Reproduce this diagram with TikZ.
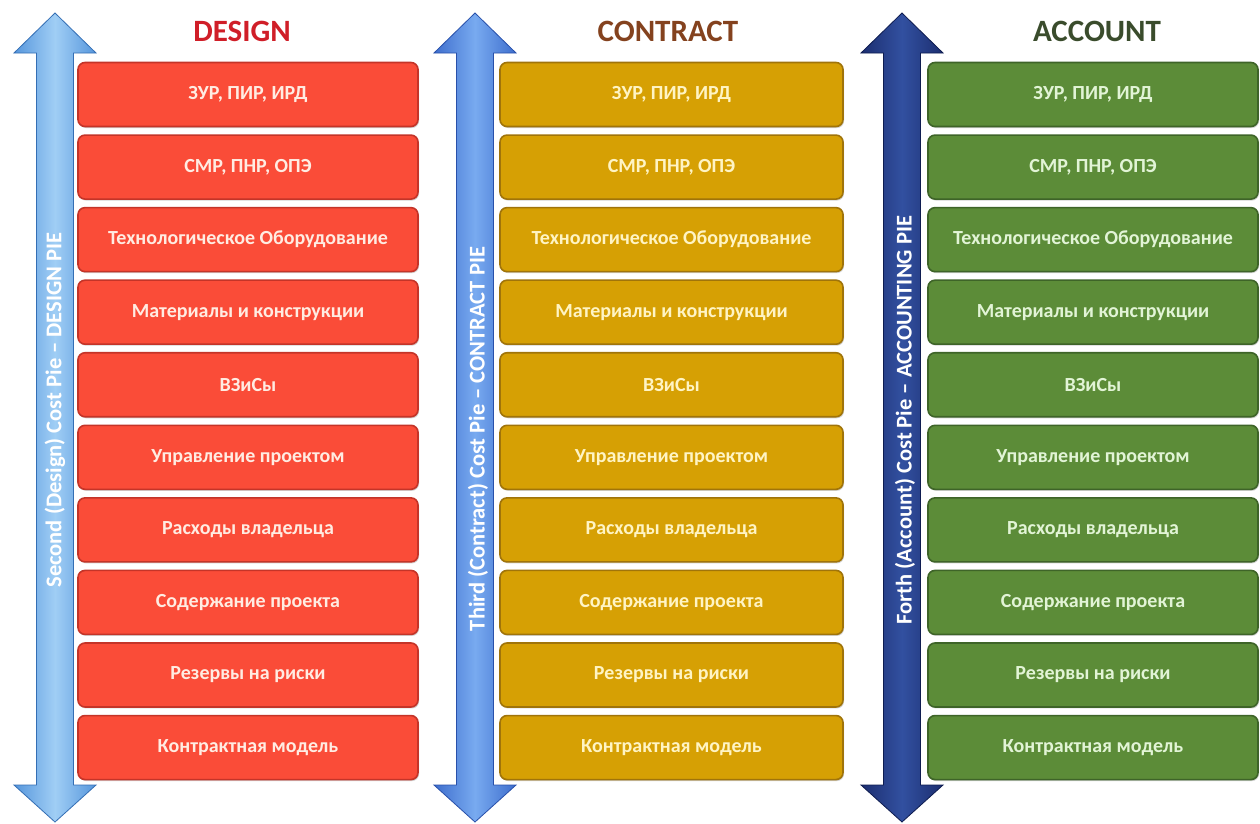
\documentclass[tikz,border=0pt]{standalone}
\usepackage{fontspec}
\setmainfont{Carlito}
\usetikzlibrary{shadows}

% palette
\definecolor{designfill}{RGB}{250,76,56}
\definecolor{designedge}{RGB}{196,52,40}
\definecolor{designtitle}{RGB}{208,30,40}
\definecolor{designtext}{RGB}{255,236,226}
\definecolor{contractfill}{RGB}{214,160,4}
\definecolor{contractedge}{RGB}{160,116,10}
\definecolor{contracttitle}{RGB}{132,66,30}
\definecolor{contracttext}{RGB}{255,244,196}
\definecolor{accountfill}{RGB}{92,140,56}
\definecolor{accountedge}{RGB}{62,100,40}
\definecolor{accounttitle}{RGB}{58,76,44}
\definecolor{accounttext}{RGB}{226,244,214}
\definecolor{arrowAedge}{RGB}{52,110,180}
\definecolor{arrowAlight}{RGB}{160,206,245}
\definecolor{arrowAmid}{RGB}{86,150,220}
\definecolor{arrowBedge}{RGB}{40,80,170}
\definecolor{arrowBlight}{RGB}{120,170,240}
\definecolor{arrowBmid}{RGB}{62,110,205}
\definecolor{arrowCedge}{RGB}{14,28,80}
\definecolor{arrowClight}{RGB}{50,80,160}
\definecolor{arrowCmid}{RGB}{28,46,112}

\tikzset{
  x=1pt, y=-1pt,
  costbox/.style={rounded corners=7pt, line width=1.6pt,
    minimum height=64pt, inner sep=0pt,
    font=\fontsize{20}{22}\selectfont\bfseries,
    drop shadow={shadow xshift=1pt, shadow yshift=-1.5pt, opacity=0.35}},
  designbox/.style={costbox, fill=designfill, draw=designedge,
    text=designtext, minimum width=340pt},
  contractbox/.style={costbox, fill=contractfill, draw=contractedge,
    text=contracttext, minimum width=343pt},
  accountbox/.style={costbox, fill=accountfill, draw=accountedge,
    text=accounttext, minimum width=330pt},
  coltitle/.style={font=\fontsize{31}{34}\selectfont\bfseries},
  pielabel/.style={rotate=90, text=white,
    font=\fontsize{22.5}{24}\selectfont\bfseries}
}

% double-headed vertical arrow centred at x=#1
\newcommand{\piearrow}[4]{%
  \shade[left color=#2, right color=#2, middle color=#3, draw=#4, line width=0.8pt]
    (#1,13) -- (#1+41,53) -- (#1+18.5,53) -- (#1+18.5,785) -- (#1+41,785)
    -- (#1,822) -- (#1-41,785) -- (#1-18.5,785) -- (#1-18.5,53)
    -- (#1-41,53) -- cycle;}

\begin{document}
\begin{tikzpicture}
\useasboundingbox (0,0) rectangle (1260,823);
\fill[white] (0,0) rectangle (1260,823);

% arrows
\piearrow{55}{arrowAmid}{arrowAlight}{arrowAedge}
\piearrow{475}{arrowBmid}{arrowBlight}{arrowBedge}
\piearrow{902}{arrowCmid}{arrowClight}{arrowCedge}

\node[pielabel] (pieA) at (55,410) {Second (Design) Cost Pie – DESIGN PIE};
\node[pielabel] (pieB) at (478,439) {Third (Contract) Cost Pie – CONTRACT PIE};
\node[pielabel] (pieC) at (905,420) {Forth (Account) Cost Pie – ACCOUNTING PIE};

% titles
\node[coltitle, text=designtitle] (tA) at (242,31) {DESIGN};
\node[coltitle, text=contracttitle] (tB) at (668,31) {CONTRACT};
\node[coltitle, text=accounttitle] (tC) at (1097,31) {ACCOUNT};

% cost items, one row per item in each column
\def\items{{"ЗУР, ПИР, ИРД","СМР, ПНР, ОПЭ","Технологическое Оборудование",
  "Материалы и конструкции","ВЗиСы","Управление проектом",
  "Расходы владельца","Содержание проекта","Резервы на риски",
  "Контрактная модель"}}
\foreach \i in {0,...,9}{
  \pgfmathsetmacro{\yy}{94.5+72.56*\i}
  \pgfmathparse{\items[\i]}\let\txt\pgfmathresult
  \node[designbox] (d\i) at (248,\yy) {\txt};
  \node[contractbox] (c\i) at (671.5,\yy) {\txt};
  \node[accountbox] (a\i) at (1093,\yy) {\txt};
}
\end{tikzpicture}
\end{document}
